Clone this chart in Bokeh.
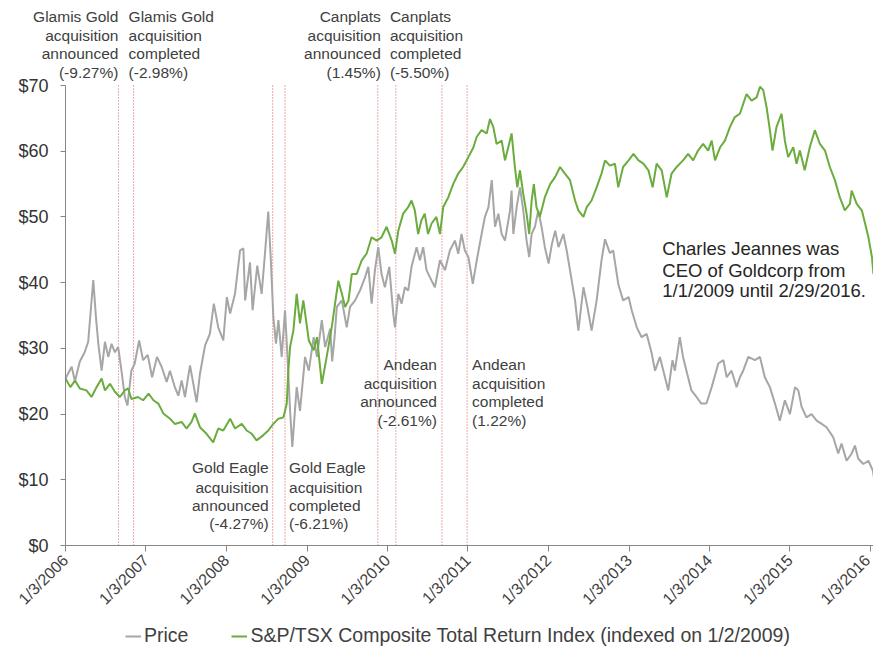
import pandas as pd
from math import pi
from bokeh.plotting import figure
from bokeh.models import (Range1d, FixedTicker, CustomJSTickFormatter, NumeralTickFormatter,
                          Label, Legend, LegendItem, ColumnDataSource)
from bokeh.embed import file_html
from bokeh.resources import INLINE

FONT = "Liberation Sans"
TEXT = "#404040"

# ---------------- data ----------------
price_dates = [
    "2006-01-03", "2006-01-31", "2006-02-15", "2006-03-09", "2006-03-31", "2006-04-16", "2006-05-09",
    "2006-05-21", "2006-06-01", "2006-06-16", "2006-07-01", "2006-07-16", "2006-07-31", "2006-08-15",
    "2006-08-30", "2006-09-14", "2006-09-29", "2006-10-11", "2006-10-29", "2006-11-13", "2006-12-03",
    "2006-12-21", "2007-01-11", "2007-01-31", "2007-02-22", "2007-03-15", "2007-04-07", "2007-04-22",
    "2007-05-14", "2007-05-30", "2007-06-14", "2007-06-29", "2007-07-22", "2007-08-06", "2007-08-21",
    "2007-09-05", "2007-09-28", "2007-10-20", "2007-11-07", "2007-11-27", "2007-12-20", "2008-01-05",
    "2008-01-20", "2008-02-11", "2008-03-05", "2008-03-20", "2008-03-28", "2008-04-19", "2008-05-01",
    "2008-05-22", "2008-06-11", "2008-06-26", "2008-07-11", "2008-07-22", "2008-08-03", "2008-08-15",
    "2008-08-26", "2008-09-10", "2008-09-25", "2008-10-07", "2008-10-18", "2008-10-28", "2008-11-17",
    "2008-12-02", "2008-12-25", "2009-01-11", "2009-02-02", "2009-02-17", "2009-03-11", "2009-03-26",
    "2009-04-18", "2009-04-27", "2009-05-08", "2009-05-18", "2009-06-10", "2009-07-02", "2009-07-17",
    "2009-08-09", "2009-08-31", "2009-09-23", "2009-10-08", "2009-10-23", "2009-11-07", "2009-11-22",
    "2009-12-07", "2009-12-22", "2010-01-11", "2010-01-29", "2010-02-06", "2010-02-21", "2010-03-08",
    "2010-03-23", "2010-04-07", "2010-04-22", "2010-05-15", "2010-05-30", "2010-06-14", "2010-06-29",
    "2010-07-22", "2010-08-06", "2010-08-29", "2010-09-21", "2010-10-13", "2010-11-05", "2010-11-20",
    "2010-12-05", "2010-12-20", "2011-01-05", "2011-01-25", "2011-02-12", "2011-03-06", "2011-03-21",
    "2011-04-06", "2011-04-21", "2011-05-06", "2011-05-21", "2011-06-05", "2011-06-20", "2011-07-13",
    "2011-07-20", "2011-07-28", "2011-08-12", "2011-08-27", "2011-09-11", "2011-09-26", "2011-10-08",
    "2011-10-19", "2011-11-03", "2011-11-18", "2011-12-03", "2011-12-18", "2012-01-04", "2012-01-19",
    "2012-02-03", "2012-02-18", "2012-03-11", "2012-03-26", "2012-04-10", "2012-05-03", "2012-05-18",
    "2012-06-10", "2012-06-28", "2012-07-17", "2012-08-09", "2012-08-31", "2012-09-16", "2012-10-08",
    "2012-10-23", "2012-11-15", "2012-12-07", "2013-01-01", "2013-01-15", "2013-02-07", "2013-03-01",
    "2013-03-24", "2013-04-16", "2013-05-01", "2013-05-23", "2013-06-15", "2013-06-30", "2013-07-19",
    "2013-07-30", "2013-08-21", "2013-09-05", "2013-09-24", "2013-10-13", "2013-11-05", "2013-11-27",
    "2013-12-20", "2014-01-13", "2014-02-12", "2014-03-07", "2014-03-22", "2014-04-13", "2014-05-06",
    "2014-05-21", "2014-06-05", "2014-06-28", "2014-07-28", "2014-08-20", "2014-09-11", "2014-10-04",
    "2014-10-27", "2014-11-18", "2014-12-11", "2015-01-03", "2015-01-26", "2015-02-10", "2015-02-25",
    "2015-03-19", "2015-04-11", "2015-05-04", "2015-05-27", "2015-06-18", "2015-07-18", "2015-08-10",
    "2015-08-25", "2015-09-17", "2015-10-10", "2015-10-25", "2015-11-09", "2015-12-02", "2015-12-25",
    "2016-01-14", "2016-01-20",
]
price_values = [
    25.4, 27.2, 25.0, 28.0, 29.4, 31.0, 40.4,
    34.8, 30.7, 26.6, 31.0, 28.7, 30.7, 29.4,
    30.2, 26.6, 22.6, 21.3, 26.6, 27.7, 31.2,
    28.2, 29.0, 25.6, 28.7, 27.2, 24.9, 26.6,
    24.1, 22.8, 25.1, 22.6, 27.4, 24.6, 21.8,
    26.1, 30.4, 32.2, 36.8, 33.2, 31.2, 37.8,
    35.3, 38.3, 44.9, 45.2, 37.3, 43.1, 35.8,
    42.6, 38.3, 44.4, 50.8, 43.9, 34.8, 30.7,
    34.3, 28.7, 35.8, 28.2, 20.5, 15.0, 24.1,
    20.5, 28.7, 26.6, 31.7, 28.7, 34.3, 30.2,
    33.0, 28.0, 31.8, 36.3, 37.3, 33.2, 36.3,
    37.3, 38.8, 40.8, 42.4, 36.8, 41.9, 45.4,
    41.3, 39.3, 42.4, 35.3, 33.2, 38.3, 36.8,
    39.3, 38.8, 42.4, 45.4, 43.4, 45.4, 41.9,
    40.3, 39.3, 43.4, 41.9, 44.9, 46.4, 44.4,
    47.4, 44.9, 43.9, 39.8, 43.4, 47.4, 50.0,
    51.5, 55.6, 48.5, 50.5, 47.4, 46.4, 51.0,
    54.0, 47.4, 51.5, 54.5, 51.0, 46.4, 43.9,
    47.4, 48.5, 51.0, 48.5, 45.4, 42.9, 45.9,
    47.9, 45.4, 47.4, 44.9, 41.9, 37.3, 32.7,
    39.3, 36.3, 32.7, 37.3, 43.4, 46.6, 44.5,
    44.9, 39.8, 37.3, 37.8, 35.8, 33.2, 31.7,
    32.2, 29.2, 26.6, 28.7, 25.6, 23.6, 28.2,
    26.6, 31.7, 28.7, 26.1, 23.6, 22.6, 21.6,
    21.6, 24.1, 27.7, 28.2, 25.6, 26.6, 24.1,
    25.6, 26.6, 28.7, 28.2, 28.7, 25.6, 24.1,
    21.6, 19.0, 22.1, 20.0, 24.1, 23.6, 21.1,
    19.5, 20.0, 19.0, 18.5, 18.0, 16.5, 14.0,
    15.5, 12.9, 14.0, 15.2, 13.2, 12.4, 12.9,
    11.4, 10.2,
]

index_dates = [
    "2006-01-03", "2006-01-25", "2006-02-15", "2006-03-09", "2006-04-08", "2006-05-01", "2006-05-24",
    "2006-06-16", "2006-07-01", "2006-07-24", "2006-08-15", "2006-09-07", "2006-09-29", "2006-10-14",
    "2006-10-29", "2006-11-28", "2006-12-21", "2007-01-15", "2007-02-06", "2007-02-28", "2007-03-23",
    "2007-04-22", "2007-05-14", "2007-06-14", "2007-07-06", "2007-07-29", "2007-08-13", "2007-09-05",
    "2007-10-05", "2007-11-04", "2007-11-27", "2007-12-20", "2008-01-20", "2008-02-11", "2008-03-13",
    "2008-04-04", "2008-04-27", "2008-05-19", "2008-06-19", "2008-07-11", "2008-08-03", "2008-08-26",
    "2008-09-18", "2008-10-03", "2008-10-10", "2008-10-18", "2008-11-02", "2008-11-17", "2008-12-02",
    "2008-12-17", "2009-01-11", "2009-02-02", "2009-02-17", "2009-03-11", "2009-04-02", "2009-04-25",
    "2009-05-10", "2009-05-25", "2009-06-10", "2009-06-25", "2009-07-10", "2009-07-25", "2009-08-16",
    "2009-09-08", "2009-09-30", "2009-10-23", "2009-11-15", "2009-12-07", "2009-12-30", "2010-01-22",
    "2010-02-06", "2010-02-21", "2010-03-15", "2010-04-07", "2010-04-22", "2010-05-07", "2010-05-22",
    "2010-06-06", "2010-06-21", "2010-07-06", "2010-07-22", "2010-08-13", "2010-08-29", "2010-09-13",
    "2010-10-06", "2010-10-28", "2010-11-20", "2010-12-12", "2011-01-05", "2011-01-28", "2011-02-12",
    "2011-03-06", "2011-03-29", "2011-04-13", "2011-04-28", "2011-05-13", "2011-06-05", "2011-06-20",
    "2011-07-05", "2011-07-20", "2011-08-04", "2011-08-15", "2011-08-27", "2011-09-11", "2011-09-26",
    "2011-10-08", "2011-10-19", "2011-10-29", "2011-11-10", "2011-11-25", "2011-12-18", "2012-01-11",
    "2012-02-03", "2012-02-25", "2012-03-18", "2012-04-10", "2012-05-03", "2012-05-18", "2012-06-10",
    "2012-06-25", "2012-07-17", "2012-08-09", "2012-08-31", "2012-09-16", "2012-10-08", "2012-10-31",
    "2012-11-15", "2012-12-07", "2013-01-01", "2013-01-23", "2013-02-15", "2013-03-09", "2013-04-01",
    "2013-04-20", "2013-05-08", "2013-05-31", "2013-06-23", "2013-07-15", "2013-08-07", "2013-09-05",
    "2013-09-28", "2013-10-21", "2013-11-12", "2013-12-05", "2013-12-28", "2014-01-13", "2014-01-28",
    "2014-02-20", "2014-03-14", "2014-04-06", "2014-04-28", "2014-05-21", "2014-06-20", "2014-07-13",
    "2014-08-05", "2014-08-20", "2014-09-04", "2014-09-19", "2014-10-04", "2014-10-16", "2014-11-03",
    "2014-11-26", "2014-12-11", "2014-12-26", "2015-01-18", "2015-02-02", "2015-02-17", "2015-03-11",
    "2015-04-03", "2015-04-26", "2015-05-19", "2015-06-11", "2015-07-03", "2015-07-26", "2015-08-17",
    "2015-09-09", "2015-10-02", "2015-10-10", "2015-11-02", "2015-11-25", "2015-12-10", "2015-12-25",
    "2016-01-10", "2016-01-17",
]
index_values = [
    25.4, 24.1, 25.1, 23.9, 23.6, 22.6, 24.1,
    25.4, 23.6, 24.6, 23.4, 22.6, 23.6, 23.9,
    22.3, 22.6, 22.1, 23.1, 22.1, 21.6, 20.1,
    19.3, 18.5, 18.8, 17.8, 18.8, 20.1, 18.0,
    17.0, 15.7, 17.8, 17.5, 19.3, 17.8, 18.5,
    17.5, 17.0, 16.0, 16.8, 17.5, 18.5, 19.3,
    19.5, 21.6, 26.6, 30.2, 32.7, 38.3, 33.8,
    37.3, 31.2, 29.7, 31.7, 24.6, 28.7, 33.2,
    36.8, 40.3, 38.3, 36.3, 37.3, 41.3, 41.3,
    43.4, 44.4, 46.9, 46.4, 46.9, 48.5, 46.4,
    44.4, 47.9, 50.5, 51.5, 52.5, 51.0, 47.4,
    49.5, 50.5, 47.4, 49.0, 50.0, 47.4, 51.5,
    53.0, 55.0, 56.6, 57.6, 59.1, 60.6, 62.2,
    63.2, 62.7, 64.9, 63.7, 61.1, 61.6, 58.6,
    60.6, 62.7, 57.6, 54.5, 57.1, 53.5, 50.5,
    47.4, 52.5, 55.0, 51.5, 50.0, 53.0, 55.0,
    56.1, 57.6, 56.6, 55.6, 52.5, 51.0, 50.0,
    51.5, 52.5, 54.5, 56.6, 58.6, 57.8, 58.1,
    54.5, 57.6, 58.6, 59.6, 58.6, 58.1, 57.1,
    54.5, 58.1, 57.1, 53.0, 56.6, 57.6, 58.6,
    59.6, 58.6, 60.1, 61.1, 60.1, 61.6, 58.6,
    60.6, 61.6, 63.7, 65.2, 65.7, 68.7, 67.7,
    68.2, 69.8, 69.3, 66.7, 63.2, 60.1, 63.7,
    65.7, 61.6, 59.1, 60.6, 58.1, 60.1, 57.1,
    60.6, 63.2, 61.1, 60.1, 57.6, 55.6, 53.0,
    51.0, 52.0, 54.0, 52.0, 51.0, 49.0, 46.9,
    43.9, 41.3,
]

tick_dates = ["2006-01-03", "2007-01-03", "2008-01-03", "2009-01-03", "2010-01-03", "2011-01-03",
              "2012-01-03", "2013-01-03", "2014-01-03", "2015-01-03", "2016-01-03"]
y_ticks = [0, 10, 20, 30, 40, 50, 60, 70]

event_dates = ["2006-08-31", "2006-11-08", "2008-07-31", "2008-09-25",
               "2009-11-20", "2010-02-10", "2010-09-07", "2010-12-30"]
event_texts = [
    ["Glamis Gold", "acquisition", "announced", "(-9.27%)"],
    ["Glamis Gold", "acquisition", "completed", "(-2.98%)"],
    ["Gold Eagle", "acquisition", "announced", "(-4.27%)"],
    ["Gold Eagle", "acquisition", "completed", "(-6.21%)"],
    ["Canplats", "acquisition", "announced", "(1.45%)"],
    ["Canplats", "acquisition", "completed", "(-5.50%)"],
    ["Andean", "acquisition", "announced", "(-2.61%)"],
    ["Andean", "acquisition", "completed", "(1.22%)"],
]
ceo_lines = ["Charles Jeannes was", "CEO of Goldcorp from", "1/1/2009 until 2/29/2016."]
legend_labels = ["Price", "S&P/TSX Composite Total Return Index (indexed on 1/2/2009)"]

# ---------------- layout / style (not data) ----------------
W, H = 873, 653
PX_PER_YEAR = 80.5          # horizontal scale of the reference
PX_PER_UNIT = 460 / 70.0    # vertical scale ($0 .. $70 over 460 px)
AX_LEFT, AX_BOTTOM, AX_TOP = 65, 545, 85   # where the axes sit in the picture

event_align = ["right", "left", "right", "left", "right", "left", "right", "left"]
event_offset = [0, -5, -4, 4, 3, -6, -5, 5]
row_sets = {
    "top": [80.5, 77.6, 74.9, 72.0],
    "low": [11.9, 8.8, 6.1, 3.3],
    "mid": [27.5, 24.7, 21.9, 19.0],
}
event_rows = ["top", "top", "low", "low", "top", "top", "mid", "mid"]


def ms(d):
    return pd.Timestamp(d).value / 1e6


t0 = pd.Timestamp(tick_dates[0])
day_px = PX_PER_YEAR / 365.25
x_start = t0 - pd.Timedelta(days=AX_LEFT / day_px)
x_end = t0 + pd.Timedelta(days=(W - AX_LEFT) / day_px)
y_lo = -(H - AX_BOTTOM) / PX_PER_UNIT
y_hi = 70 + AX_TOP / PX_PER_UNIT

p = figure(width=W, height=H, x_axis_type="datetime",
           x_range=Range1d(ms(x_start), ms(x_end)),
           y_range=Range1d(y_lo, y_hi),
           output_backend="svg", toolbar_location=None,
           min_border_left=0, min_border_right=0, min_border_top=0, min_border_bottom=0)
p.outline_line_color = None
p.grid.visible = False
p.background_fill_color = "white"
p.border_fill_color = "white"

ev_src = ColumnDataSource(dict(x=pd.to_datetime(event_dates),
                               y0=[0] * len(event_dates), y1=[70] * len(event_dates)))
p.segment(x0="x", y0="y0", x1="x", y1="y1", source=ev_src,
          line_color="#d9534f", line_dash="1 2", line_width=1)

price_src = ColumnDataSource(dict(x=pd.to_datetime(price_dates), y=price_values))
index_src = ColumnDataSource(dict(x=pd.to_datetime(index_dates), y=index_values))
r_price = p.line("x", "y", source=price_src, line_color="#a6a6a6", line_width=2)
r_index = p.line("x", "y", source=index_src, line_color="#6aac3d", line_width=2)

xa = p.xaxis[0]
xa.fixed_location = 0
xa.bounds = (ms(tick_dates[0]), ms(x_end))
xa.ticker = FixedTicker(ticks=[ms(d) for d in tick_dates])
xa.formatter = CustomJSTickFormatter(code="""
const d = new Date(tick);
return (d.getUTCMonth() + 1) + "/" + d.getUTCDate() + "/" + d.getUTCFullYear();
""")
xa.major_label_orientation = pi / 4
xa.major_label_text_font = FONT
xa.major_label_text_font_size = "16px"
xa.major_label_text_color = TEXT
xa.axis_line_color = "#868686"
xa.major_tick_line_color = "#868686"
xa.major_tick_out = 6
xa.major_tick_in = 0
xa.minor_tick_line_color = None
xa.major_label_standoff = 6

ya = p.yaxis[0]
ya.fixed_location = ms(tick_dates[0])
ya.bounds = (0, 70)
ya.ticker = FixedTicker(ticks=y_ticks)
ya.formatter = NumeralTickFormatter(format="$0")
ya.major_label_text_font = FONT
ya.major_label_text_font_size = "18px"
ya.major_label_text_color = "#333333"
ya.axis_line_color = "#868686"
ya.major_tick_line_color = "#868686"
ya.major_tick_out = 5
ya.major_tick_in = 0
ya.minor_tick_line_color = None
ya.major_label_standoff = 12

for d, lines, align, off, rows in zip(event_dates, event_texts, event_align, event_offset, event_rows):
    for line, yv in zip(lines, row_sets[rows]):
        p.add_layout(Label(x=ms(d), y=yv, text=line, text_align=align, text_baseline="middle",
                           x_offset=off, text_font=FONT, text_font_size="15.5px", text_color=TEXT))

for line, yv in zip(ceo_lines, [45.2, 41.9, 38.8]):
    p.add_layout(Label(x=ms("2013-06-03"), y=yv, text=line, text_align="left", text_baseline="middle",
                       text_font=FONT, text_font_size="18.5px", text_color="#262626"))

legend = Legend(items=[LegendItem(label=legend_labels[0], renderers=[r_price]),
                       LegendItem(label=legend_labels[1], renderers=[r_index])],
                orientation="horizontal", location=(123, 4),
                label_text_font=FONT, label_text_font_size="19.5px", label_text_color=TEXT,
                glyph_width=16, glyph_height=16, label_standoff=3, spacing=43,
                padding=2, margin=0, border_line_alpha=0, background_fill_alpha=0)
p.add_layout(legend)

open("out.html", "w").write(file_html(p, INLINE))
